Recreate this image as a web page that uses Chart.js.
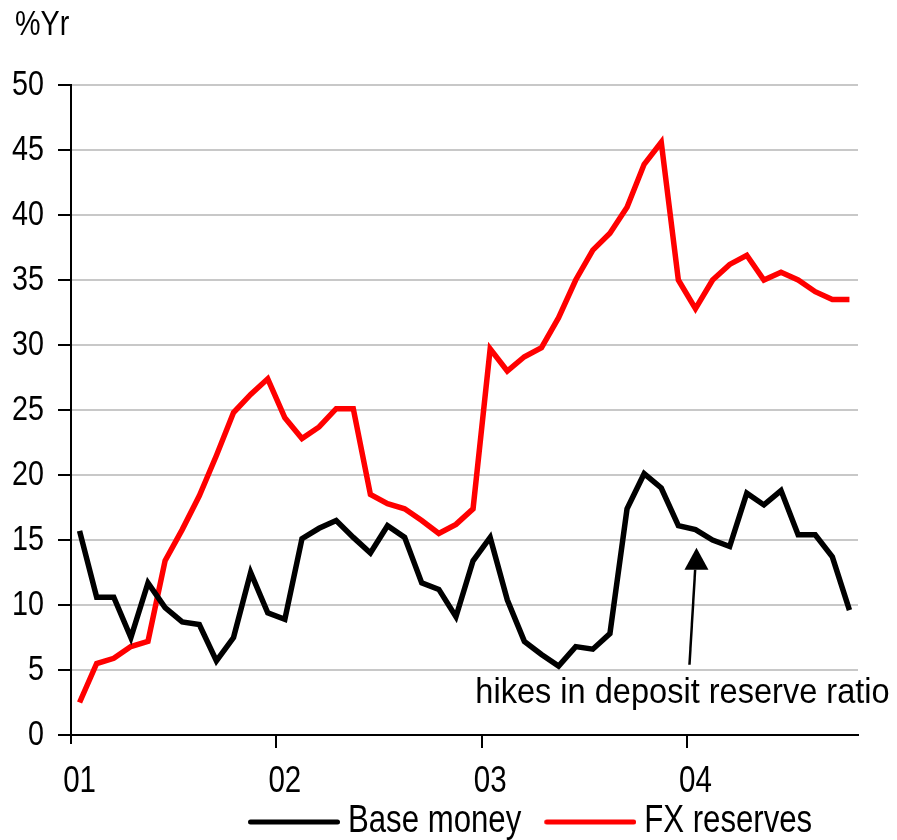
<!DOCTYPE html>
<html>
<head>
<meta charset="utf-8">
<script src="https://cdn.jsdelivr.net/npm/chart.js@4.4.1/dist/chart.umd.min.js"></script>
<style>
  html, body { margin: 0; padding: 0; background: #ffffff; }
  #wrap { width: 897px; height: 840px; position: relative; }
</style>
</head>
<body>
<div id="wrap"><canvas id="c" width="897" height="840"></canvas></div>
<script>
// Monthly observations, Jan 2001 .. Oct 2004
const months = [
  'Jan 01','Feb 01','Mar 01','Apr 01','May 01','Jun 01','Jul 01','Aug 01','Sep 01','Oct 01','Nov 01','Dec 01',
  'Jan 02','Feb 02','Mar 02','Apr 02','May 02','Jun 02','Jul 02','Aug 02','Sep 02','Oct 02','Nov 02','Dec 02',
  'Jan 03','Feb 03','Mar 03','Apr 03','May 03','Jun 03','Jul 03','Aug 03','Sep 03','Oct 03','Nov 03','Dec 03',
  'Jan 04','Feb 04','Mar 04','Apr 04','May 04','Jun 04','Jul 04','Aug 04','Sep 04','Oct 04'
];
const yearLabels = ['01', '02', '03', '04'];
const baseMoney = [
  15.7, 10.6, 10.6, 7.5, 11.7, 9.8, 8.7, 8.5, 5.7, 7.5, 12.5, 9.4,
  8.9, 15.1, 15.9, 16.5, 15.2, 14.0, 16.1, 15.2, 11.7, 11.2, 9.1, 13.4,
  15.2, 10.4, 7.2, 6.2, 5.3, 6.8, 6.6, 7.8, 17.4, 20.1, 19.0, 16.1,
  15.8, 15.0, 14.5, 18.6, 17.7, 18.8, 15.4, 15.4, 13.7, 9.6
];
const fxReserves = [
  2.5, 5.5, 5.9, 6.8, 7.2, 13.4, 15.8, 18.4, 21.5, 24.8, 26.2, 27.4,
  24.4, 22.8, 23.7, 25.1, 25.1, 18.5, 17.8, 17.4, 16.5, 15.5, 16.2, 17.4,
  29.7, 28.0, 29.1, 29.8, 32.1, 35.0, 37.3, 38.6, 40.6, 43.9, 45.6, 35.0,
  32.8, 35.0, 36.2, 36.9, 35.0, 35.6, 35.0, 34.1, 33.5, 33.5
];
const seriesNames = ['Base money', 'FX reserves'];
const unitLabel = '%Yr';
const noteText = 'hikes in deposit reserve ratio';

const FONT = "'Liberation Sans', Arial, sans-serif";
let SX = 0.82; // horizontal squeeze to mimic a narrow face

const canvas = document.getElementById('c');
const g2 = canvas.getContext('2d');
const origFill = g2.fillText.bind(g2);
const origMeasure = g2.measureText.bind(g2);
g2.fillText = function (t, x, y, mw) {
  this.save();
  this.translate(x, y);
  this.scale(SX, 1);
  if (mw !== undefined) origFill(t, 0, 0, mw / SX); else origFill(t, 0, 0);
  this.restore();
};
g2.measureText = function (t) {
  const m = origMeasure(t);
  return {
    width: m.width * SX,
    actualBoundingBoxAscent: m.actualBoundingBoxAscent,
    actualBoundingBoxDescent: m.actualBoundingBoxDescent,
    actualBoundingBoxLeft: m.actualBoundingBoxLeft * SX,
    actualBoundingBoxRight: m.actualBoundingBoxRight * SX,
    fontBoundingBoxAscent: m.fontBoundingBoxAscent,
    fontBoundingBoxDescent: m.fontBoundingBoxDescent
  };
};

function legendSwatch(color) {
  const c = document.createElement('canvas');
  c.width = 126; c.height = 8;
  const g = c.getContext('2d');
  g.strokeStyle = color; g.lineWidth = 5; g.lineCap = 'round';
  g.beginPath(); g.moveTo(36.5, 4); g.lineTo(123.5, 4); g.stroke();
  return c;
}

const extras = {
  id: 'extras',
  afterLayout(chart) {
    const lg = chart.legend;
    if (lg) {
      lg.left = 225;
      lg.right = 897;
      lg.top += 3;
      lg.bottom += 3;
    }
  },
  afterDatasetsDraw(chart) {
    const ctx = chart.ctx;
    const xs = chart.scales.x, ys = chart.scales.y;
    ctx.save();
    ctx.fillStyle = '#000';
    ctx.font = '35px ' + FONT;
    ctx.textAlign = 'left';
    ctx.textBaseline = 'alphabetic';
    ctx.fillText(unitLabel, 15, 35);
    // y axis runs a little below the x axis (the "01" tick)
    ctx.strokeStyle = '#000';
    ctx.lineWidth = 2;
    ctx.beginPath();
    ctx.moveTo(chart.chartArea.left, chart.chartArea.bottom);
    ctx.lineTo(chart.chartArea.left, chart.chartArea.bottom + 9);
    ctx.stroke();
    // annotation arrow
    const tipX = xs.getPixelForValue(36) + 1;
    const tipY = ys.getPixelForValue(14.4);
    const baseX = tipX - 7;
    const baseY = ys.getPixelForValue(5.4);
    const headLen = 22, headHalf = 12;
    const midX = tipX - (tipX - baseX) * headLen / (baseY - tipY);
    ctx.lineWidth = 2.5;
    ctx.beginPath();
    ctx.moveTo(baseX, baseY);
    ctx.lineTo(midX, tipY + headLen);
    ctx.stroke();
    ctx.beginPath();
    ctx.moveTo(tipX, tipY);
    ctx.lineTo(tipX - headHalf, tipY + headLen);
    ctx.lineTo(tipX + headHalf, tipY + headLen);
    ctx.closePath();
    ctx.fill();
    // annotation text
    const keep = SX;
    SX = 0.93;
    ctx.font = '35px ' + FONT;
    ctx.textAlign = 'center';
    ctx.fillText(noteText, tipX - 14, ys.getPixelForValue(2.5));
    SX = keep;
    ctx.restore();
  }
};

new Chart(canvas, {
  type: 'line',
  data: {
    labels: months,
    datasets: [
      {
        label: seriesNames[0], data: baseMoney,
        borderColor: '#000000', backgroundColor: '#000000',
        borderWidth: 5.5, pointRadius: 0, tension: 0,
        pointStyle: legendSwatch('#000000')
      },
      {
        label: seriesNames[1], data: fxReserves,
        borderColor: '#ff0000', backgroundColor: '#ff0000',
        borderWidth: 5.5, pointRadius: 0, tension: 0,
        pointStyle: legendSwatch('#ff0000')
      }
    ]
  },
  options: {
    responsive: false,
    animation: false,
    events: [],
    layout: { padding: { left: 0, right: 39, top: 85, bottom: -8 } },
    plugins: {
      title: { display: false },
      tooltip: { enabled: false },
      legend: {
        display: true,
        position: 'bottom',
        align: 'start',
        labels: {
          usePointStyle: true,
          pointStyleWidth: 104,
          boxHeight: 8,
          padding: 0,
          color: '#000',
          font: { family: FONT, size: 38 }
        }
      }
    },
    scales: {
      x: {
        type: 'category',
        offset: true,
        border: { display: true, color: '#000', width: 2 },
        grid: {
          display: true,
          offset: true,
          drawOnChartArea: false,
          drawTicks: true,
          tickLength: 13,
          lineWidth: 2,
          tickColor: (ctx) => (ctx.index % 12 === 0 && ctx.index > 0 && ctx.index < months.length) ? '#000' : 'rgba(0,0,0,0)',
          color: 'rgba(0,0,0,0)'
        },
        ticks: {
          autoSkip: false,
          maxRotation: 0,
          minRotation: 0,
          padding: 12,
          color: '#000',
          font: { family: FONT, size: 36 },
          callback: (v, i) => (i % 12 === 0) ? yearLabels[i / 12] : ''
        },
        afterFit: (s) => { s.height = 65; }
      },
      y: {
        min: 0, max: 50,
        border: { display: true, color: '#000', width: 2 },
        grid: {
          color: '#c8c8c8',
          lineWidth: 2,
          drawTicks: true,
          tickLength: 13,
          tickColor: '#000'
        },
        ticks: {
          stepSize: 5,
          padding: 14,
          color: '#000',
          font: { family: FONT, size: 35 }
        },
        afterFit: (s) => { s.width = 71; }
      }
    }
  },
  plugins: [extras]
});
</script>
</body>
</html>
